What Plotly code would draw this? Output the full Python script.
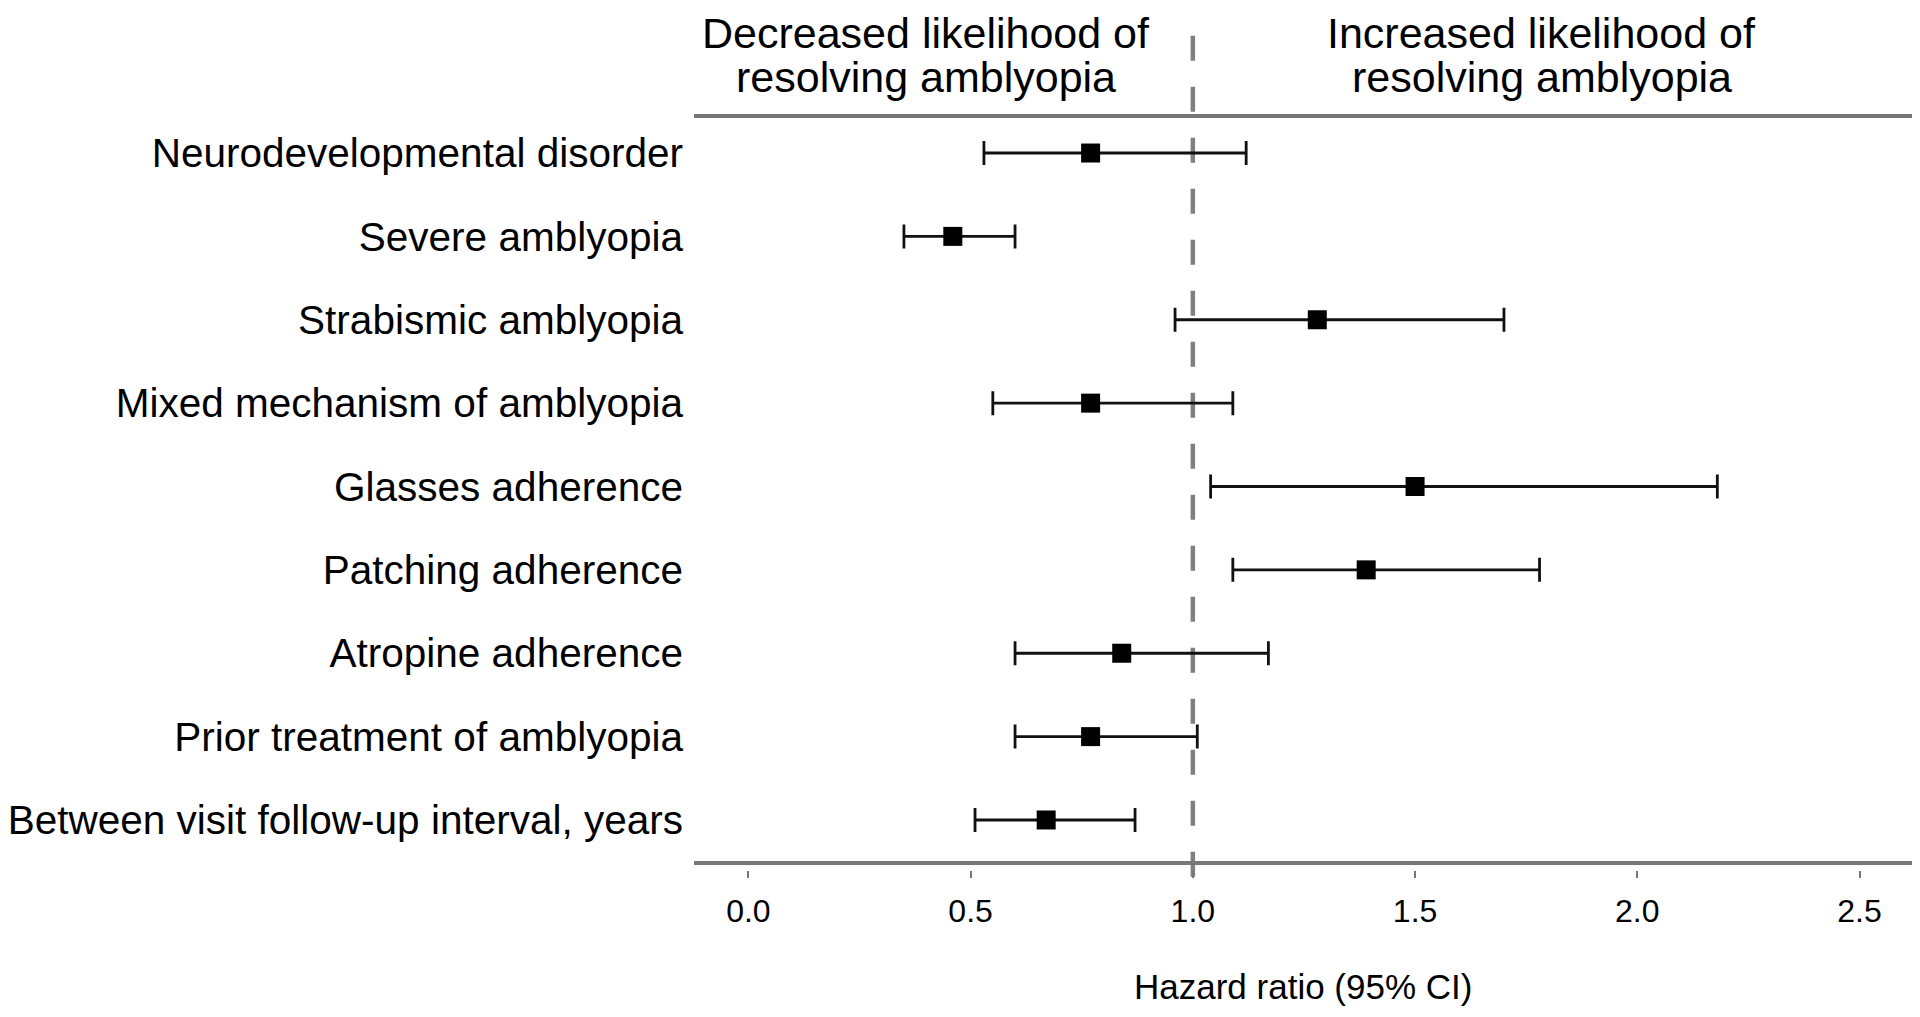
import plotly.graph_objects as go

labels = ["Neurodevelopmental disorder", "Severe amblyopia", "Strabismic amblyopia",
          "Mixed mechanism of amblyopia", "Glasses adherence", "Patching adherence",
          "Atropine adherence", "Prior treatment of amblyopia",
          "Between visit follow-up interval, years"]
hr = [0.77, 0.46, 1.28, 0.77, 1.50, 1.39, 0.84, 0.77, 0.67]
lo = [0.53, 0.35, 0.96, 0.55, 1.04, 1.09, 0.60, 0.60, 0.51]
hi = [1.12, 0.60, 1.70, 1.09, 2.18, 1.78, 1.17, 1.01, 0.87]
xticks = [0.0, 0.5, 1.0, 1.5, 2.0, 2.5]
xticklabels = ["0.0", "0.5", "1.0", "1.5", "2.0", "2.5"]
header_left = ["Decreased likelihood of", "resolving amblyopia"]
header_right = ["Increased likelihood of", "resolving amblyopia"]
x_title = "Hazard ratio (95% CI)"

rows = list(range(len(labels)))
NARROW = "Liberation Sans Narrow, Arial Narrow, Liberation Sans, Arial, sans-serif"
REG = "Liberation Sans, Arial, Helvetica, sans-serif"

# page body has an 8px default margin; size the figure so it fits the window
W, H = 1904, 1001
ML, MR, MT, MB = 672, 0, 108, 139
header_y = [1.110, 1.0517]

fig = go.Figure()
fig.add_trace(go.Scatter(
    x=hr, y=rows, mode="markers",
    marker=dict(symbol="square", size=19, color="black"),
    error_x=dict(type="data", symmetric=False,
                 array=[h - m for h, m in zip(hi, hr)],
                 arrayminus=[m - l for m, l in zip(hr, lo)],
                 color="#111111", thickness=2.8, width=12),
    showlegend=False, hoverinfo="skip",
))

shapes = [
    # reference line at HR = 1
    dict(type="line", xref="x", yref="paper", x0=1, x1=1, y0=-0.009, y1=1.118,
         line=dict(color="#808080", width=4.5, dash="25px,26px"), layer="below"),
    # top separator
    dict(type="line", xref="paper", yref="paper", x0=0, x1=1, y0=1, y1=1,
         line=dict(color="#777777", width=4)),
    # bottom axis line
    dict(type="line", xref="paper", yref="paper", x0=0, x1=1, y0=0.0093, y1=0.0093,
         line=dict(color="#777777", width=4)),
]

annotations = []
for t, yy in zip(header_left, header_y):
    annotations.append(dict(text=t, xref="x", yref="paper", x=0.40,
                            y=yy, xanchor="center", yanchor="middle",
                            showarrow=False, font=dict(family=NARROW, size=43, color="black")))
for t, yy in zip(header_right, header_y):
    annotations.append(dict(text=t, xref="x", yref="paper", x=1.785,
                            y=yy, xanchor="center", yanchor="middle",
                            showarrow=False, font=dict(family=NARROW, size=43, color="black")))
annotations.append(dict(text=x_title, xref="paper", yref="paper", x=0.5, y=-0.154,
                        xanchor="center", yanchor="middle", showarrow=False,
                        font=dict(family=NARROW, size=35, color="black")))

fig.update_layout(
    width=W, height=H,
    margin=dict(l=ML, r=MR, t=MT, b=MB),
    paper_bgcolor="white", plot_bgcolor="white",
    shapes=shapes, annotations=annotations,
    xaxis=dict(range=[-0.1223, 2.618], tickvals=xticks, ticktext=xticklabels,
               showgrid=False, zeroline=False, showline=False,
               ticks="outside", ticklen=7, tickwidth=2, tickcolor="#777777",
               tickfont=dict(family=NARROW, size=32, color="black"),
               ticklabelstandoff=6),
    yaxis=dict(range=[8.6, -0.444], tickvals=rows, ticktext=labels,
               showgrid=False, zeroline=False, showline=False, ticks="",
               tickfont=dict(family=REG, size=40.5, color="black"),
               ticklabelstandoff=10),
)

fig.write_html("out.html")
